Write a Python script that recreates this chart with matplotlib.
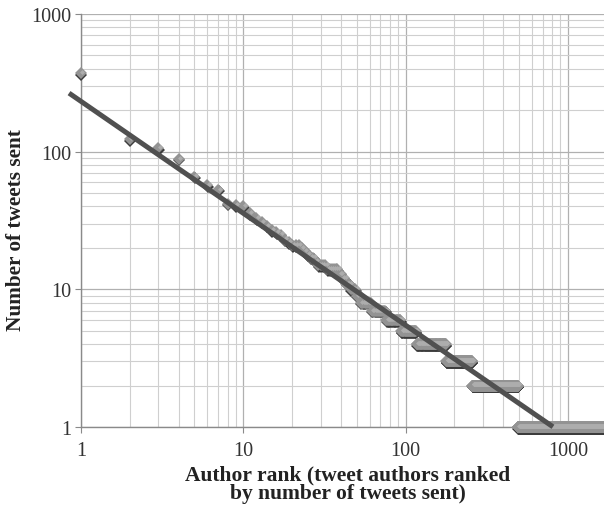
import matplotlib
matplotlib.use('Agg')
import matplotlib.pyplot as plt
from matplotlib import transforms
from matplotlib.ticker import LogLocator, NullFormatter, FixedLocator

# tweets per author for the top ranks (rank 1, 2, 3, ...)
top_counts = [372, 124, 106, 89, 66, 57, 53, 42, 41, 40,
              36, 33, 31, 29, 27, 26, 25, 23, 22, 21,
              21, 21, 20, 19, 18, 17, 17, 16, 15, 15, 15, 15]

# tied counts further down: value and last rank holding it
tie_values = [14, 13, 12, 11, 10, 9, 8, 7, 6, 5, 4, 3, 2, 1]
tie_last_rank = [38, 40, 42, 45, 49, 52, 61, 75, 93, 116, 177, 256, 492, 1750]

# power-law trend line  y = a * x^b
fit_a = 232.0
fit_b = -0.813
fit_x = [0.844, 809]

x_ticks = [1, 10, 100, 1000]
y_ticks = [1, 10, 100, 1000]

# build rank / count series
ranks = list(range(1, len(top_counts) + 1))
counts = list(top_counts)
r = len(top_counts)
for v, last in zip(tie_values, tie_last_rank):
    while r < last:
        r += 1
        ranks.append(r)
        counts.append(v)

plt.rcParams['font.family'] = ['Liberation Serif', 'DejaVu Serif']

fig = plt.figure(figsize=(6.04, 5.06), dpi=100)
ax = fig.add_axes([81/604, 1 - 428/506, 1 - 81/604, (428 - 15)/506])
ax.set_xscale('log')
ax.set_yscale('log')
ax.set_xlim(1, 10**((604 - 81)/162.3))
ax.set_ylim(1, 1000)

ax.xaxis.set_major_locator(FixedLocator(x_ticks))
ax.yaxis.set_major_locator(FixedLocator(y_ticks))
ax.set_xticklabels([str(t) for t in x_ticks])
ax.set_yticklabels([str(t) for t in y_ticks])
ax.xaxis.set_minor_locator(LogLocator(base=10, subs=range(2, 10)))
ax.yaxis.set_minor_locator(LogLocator(base=10, subs=range(2, 10)))
ax.xaxis.set_minor_formatter(NullFormatter())
ax.yaxis.set_minor_formatter(NullFormatter())

ax.grid(True, which='minor', color='#cfcfcf', linewidth=0.8)
ax.grid(True, which='major', color='#b0b0b0', linewidth=0.9)
ax.set_axisbelow(True)

for s in ['top', 'right']:
    ax.spines[s].set_visible(False)
for s in ['left', 'bottom']:
    ax.spines[s].set_color('#8a8a8a')
    ax.spines[s].set_linewidth(1.0)

ax.tick_params(which='major', direction='out', length=4, width=0.8, color='#8a8a8a',
               labelsize=14.5, labelcolor='#333333', pad=3)
ax.tick_params(which='minor', length=0)
ax.tick_params(axis='x', pad=6)

# markers with a simple 3D look: shadow, body, highlight
shadow = transforms.offset_copy(ax.transData, fig=fig, x=0.3, y=-1.3, units='points')
hilite = transforms.offset_copy(ax.transData, fig=fig, x=1.0, y=0.8, units='points')
ax.plot(ranks, counts, linestyle='none', marker='D', markersize=6.5,
        color='#3c3c3c', markeredgewidth=0, transform=shadow, zorder=3, clip_on=False)
ax.plot(ranks, counts, linestyle='none', marker='D', markersize=6.5,
        color='#939393', markeredgewidth=0, zorder=4, clip_on=False)
ax.plot(ranks, counts, linestyle='none', marker='D', markersize=2.5,
        color='#adadad', markeredgewidth=0, transform=hilite, zorder=5, clip_on=False)

# trend line
fit_y = [fit_a * x ** fit_b for x in fit_x]
ax.plot(fit_x, fit_y, color='#505050', linewidth=3.6, solid_capstyle='butt',
        zorder=6, clip_on=False)

fig.text(16/604, 1 - 230/506, 'Number of tweets sent', rotation=90,
         ha='center', va='center', fontsize=15.3, fontweight='bold', color='#222222')
fig.text(348/604, 1 - 485/506, 'Author rank (tweet authors ranked\nby number of tweets sent)',
         ha='center', va='center', fontsize=15.5, fontweight='bold', color='#222222',
         linespacing=0.9)

fig.savefig('out.png', dpi=100)
